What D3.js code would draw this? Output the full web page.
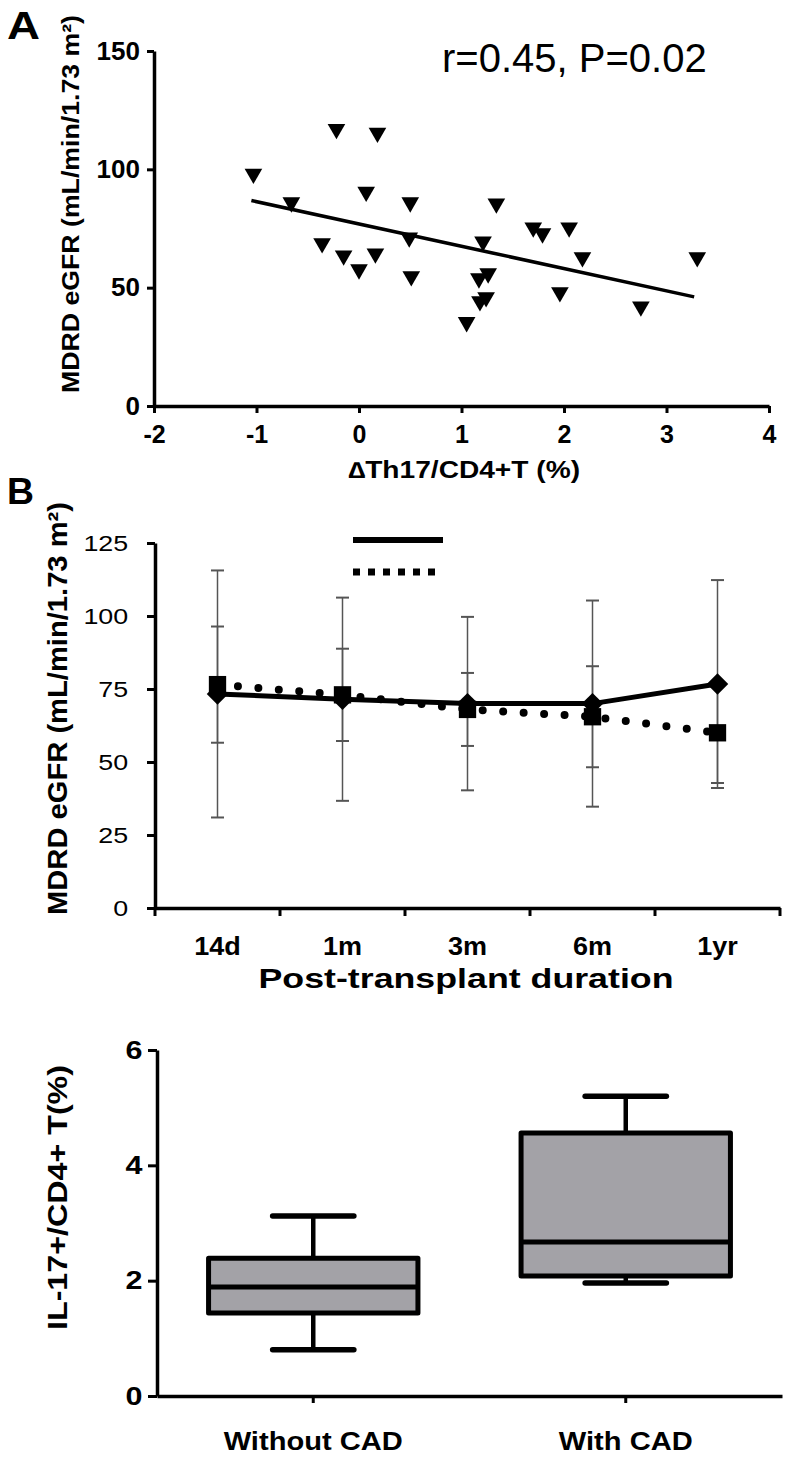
<!DOCTYPE html>
<html><head><meta charset="utf-8">
<script src="https://cdn.jsdelivr.net/npm/d3@7"></script>
<style>
body{margin:0;background:#fff;}
svg{display:block;font-family:"Liberation Sans",Arial,Helvetica,sans-serif;}
</style></head><body>
<svg id="c" width="796" height="1460"></svg>
<script>
// ---------- Panel A data ----------
const deltaTh17 = [-1.03,-0.66,-0.22,0.18,0.07,0.50,0.49,-0.36,-0.15,0.16,0.00,0.51,1.34,1.70,1.79,2.05,1.21,2.18,3.30,1.26,1.17,1.24,1.18,1.05,1.96,2.75];
const eGFR_A   = [98.1,86.0,117.0,115.4,90.5,86.0,71.2,68.7,63.6,64.4,57.7,54.8,85.5,75.4,72.9,75.4,69.5,62.8,62.8,56.0,53.9,45.9,44.2,35.4,48.0,42.0];
const fitX = [-1.05, 3.27];
const fitY = [86.8, 46.1];
const xTicksA = [-2,-1,0,1,2,3,4];
const yTicksA = [0,50,100,150];

// ---------- Panel B data ----------
const durations  = ["14d","1m","3m","6m","1yr"];
const meanSolid  = [73.3,71.5,70.0,70.0,76.7];
const sdSolid    = [42.3,34.8,29.7,35.3,35.6];
const meanDotted = [76.5,73.0,68.0,65.5,60.0];
const sdDotted   = [19.9,15.8,12.5,17.3,17.2];
const yTicksB = [0,25,50,75,100,125];

// ---------- Panel C data ----------
const groups    = ["Without CAD","With CAD"];
const whiskLow  = [0.80,1.96];
const q1        = [1.44,2.08];
const medians   = [1.89,2.67];
const q3        = [2.39,4.56];
const whiskHigh = [3.12,5.20];
const yTicksC = [0,2,4,6];

const FONT = '"Liberation Sans", Arial, Helvetica, sans-serif';
const svg = d3.select("#c");

function styleAxis(g, o){
  g.attr("font-family", null).attr("font-size", null);
  g.select(".domain").attr("stroke","#000").attr("stroke-width", o.dw || 3.5);
  g.selectAll(".tick line").attr("stroke","#000").attr("stroke-width", o.tw || 3);
  const t = g.selectAll(".tick text").attr("fill","#000")
    .style("font-family", FONT).style("font-size", o.fs + "px")
    .style("font-weight", o.fw || "bold");
  if (o.sx) t.attr("transform", `scale(${o.sx},1)`);
}
function label(txt, x, y, o){
  const t = svg.append("text").attr("x", x).attr("y", y).text(txt)
    .style("font-family", FONT).style("font-size", o.fs + "px")
    .style("font-weight", o.fw || "bold").attr("fill", "#000")
    .attr("text-anchor", o.anchor || "start");
  if (o.len) t.attr("textLength", o.len).attr("lengthAdjust", "spacingAndGlyphs");
  return t;
}
const plain = d => String(d);

// =================== PANEL A ===================
const xA = d3.scaleLinear().domain([-2,4]).range([154,769]);
const yA = d3.scaleLinear().domain([0,150]).range([406,51]);

const gAy = svg.append("g").attr("transform","translate(154,0)")
  .call(d3.axisLeft(yA).tickValues(yTicksA).tickSize(7).tickSizeOuter(0).tickPadding(7).tickFormat(plain));
styleAxis(gAy, {fs:26});
const gAx = svg.append("g").attr("transform","translate(0,406)")
  .call(d3.axisBottom(xA).tickValues(xTicksA).tickSize(7).tickSizeOuter(0).tickPadding(12).tickFormat(plain));
styleAxis(gAx, {fs:25});

// regression line
svg.append("path")
  .datum(fitX.map((x,i) => [x, fitY[i]]))
  .attr("d", d3.line().x(d => xA(d[0])).y(d => yA(d[1])))
  .attr("fill","none").attr("stroke","#000").attr("stroke-width",3.5);

// triangles (pointing down)
svg.append("g").selectAll("path").data(deltaTh17.map((x,i) => [x, eGFR_A[i]]))
  .join("path")
  .attr("d", d3.symbol(d3.symbolTriangle, 135))
  .attr("transform", d => `translate(${xA(d[0])},${yA(d[1])}) rotate(180)`)
  .attr("fill","#000");

label("A", 7, 39, {fs:38, len:33});
label("r=0.45, P=0.02", 442, 72, {fs:40, fw:"normal"});
svg.append("text").attr("transform","translate(79,393) rotate(-90)")
  .style("font-family",FONT).style("font-size","24px").style("font-weight","bold")
  .attr("textLength",378).attr("lengthAdjust","spacingAndGlyphs")
  .text("MDRD eGFR (mL/min/1.73 m²)");
label("\u2206Th17/CD4+T (%)", 464, 478, {fs:23, anchor:"middle", len:232});

// =================== PANEL B ===================
const xB = d3.scaleBand().domain(durations).range([155,780]).paddingInner(0).paddingOuter(0);
const yB = d3.scaleLinear().domain([0,125]).range([908,543]);
const cx = d => xB(d) + xB.bandwidth()/2;

const gBy = svg.append("g").attr("transform","translate(155,0)")
  .call(d3.axisLeft(yB).tickValues(yTicksB).tickSize(8).tickSizeOuter(0).tickPadding(14).tickFormat(plain));
styleAxis(gBy, {fs:22, fw:"normal", sx:1.22});

const gBx = svg.append("g").attr("transform","translate(0,908)")
  .call(d3.axisBottom(xB).tickSize(0).tickPadding(29));
styleAxis(gBx, {fs:25, sx:1.08});
// boundary ticks (GraphPad style)
const bounds = durations.map(d => xB(d)).concat([xB.range()[1]]);
gBx.selectAll("line.bt").data(bounds).join("line").attr("class","bt")
  .attr("x1", d => d).attr("x2", d => d).attr("y1", 0).attr("y2", 8)
  .attr("stroke","#000").attr("stroke-width",3);

// error bars
function errBars(means, sds){
  const g = svg.append("g").attr("stroke","#555");
  durations.forEach((d,i) => {
    const x = cx(d), hi = yB(means[i] + sds[i]), lo = yB(means[i] - sds[i]);
    g.append("line").attr("x1",x).attr("x2",x).attr("y1",hi).attr("y2",lo).attr("stroke-width",1.5);
    [hi,lo].forEach(y => g.append("line").attr("x1",x-6.5).attr("x2",x+6.5).attr("y1",y).attr("y2",y).attr("stroke-width",2));
  });
}
errBars(meanSolid, sdSolid);
errBars(meanDotted, sdDotted);

const lineB = d3.line().x((d,i) => cx(durations[i])).y(d => yB(d));
svg.append("path").datum(meanDotted).attr("d", lineB)
  .attr("fill","none").attr("stroke","#000").attr("stroke-width",8)
  .attr("stroke-dasharray","0,20.5").attr("stroke-linecap","round");
svg.append("path").datum(meanSolid).attr("d", lineB)
  .attr("fill","none").attr("stroke","#000").attr("stroke-width",5);

svg.append("g").selectAll("path").data(meanDotted).join("path")
  .attr("d", d3.symbol(d3.symbolSquare, 300))
  .attr("transform", (d,i) => `translate(${cx(durations[i])},${yB(d)})`).attr("fill","#000");
svg.append("g").selectAll("path").data(meanSolid).join("path")
  .attr("d", d3.symbol(d3.symbolSquare, 230))
  .attr("transform", (d,i) => `translate(${cx(durations[i])},${yB(d)}) rotate(45)`).attr("fill","#000");

// legend lines (labels absent in original)
svg.append("line").attr("x1",353).attr("x2",443).attr("y1",540).attr("y2",540)
  .attr("stroke","#000").attr("stroke-width",6);
svg.append("line").attr("x1",353).attr("x2",443).attr("y1",572).attr("y2",572)
  .attr("stroke","#000").attr("stroke-width",7).attr("stroke-dasharray","7,8");

label("B", 7, 504, {fs:37, len:27});
svg.append("text").attr("transform","translate(67,915) rotate(-90)")
  .style("font-family",FONT).style("font-size","28px").style("font-weight","bold")
  .attr("textLength",413).attr("lengthAdjust","spacingAndGlyphs")
  .text("MDRD eGFR (mL/min/1.73 m²)");
label("Post-transplant duration", 466, 988, {fs:28, anchor:"middle", len:415});

// =================== PANEL C ===================
const xC = d3.scaleBand().domain(groups).range([157,782]).paddingInner(0).paddingOuter(0);
const yC = d3.scaleLinear().domain([0,6]).range([1396,1050]);
const ccx = d => xC(d) + xC.bandwidth()/2;

const gCy = svg.append("g").attr("transform","translate(157,0)")
  .call(d3.axisLeft(yC).tickValues(yTicksC).tickSize(9).tickSizeOuter(0).tickPadding(3).tickFormat(plain));
styleAxis(gCy, {fs:25, sx:1.22});
const gCx = svg.append("g").attr("transform","translate(0,1396)")
  .call(d3.axisBottom(xC).tickSize(7).tickSizeOuter(0).tickPadding(29));
styleAxis(gCx, {fs:26, sx:1.12});

const boxW = xC.bandwidth()*0.67, capW = xC.bandwidth()*0.26;
const gBox = svg.append("g");
groups.forEach((g,i) => {
  const x = ccx(g);
  gBox.append("line").attr("x1",x).attr("x2",x).attr("y1",yC(whiskHigh[i])).attr("y2",yC(q3[i]))
    .attr("stroke","#000").attr("stroke-width",4.5);
  gBox.append("line").attr("x1",x).attr("x2",x).attr("y1",yC(q1[i])).attr("y2",yC(whiskLow[i]))
    .attr("stroke","#000").attr("stroke-width",4.5);
  [whiskHigh[i], whiskLow[i]].forEach(v => gBox.append("line")
    .attr("x1",x-capW/2).attr("x2",x+capW/2).attr("y1",yC(v)).attr("y2",yC(v))
    .attr("stroke","#000").attr("stroke-width",5.5).attr("stroke-linecap","round"));
  gBox.append("rect").attr("x",x-boxW/2).attr("width",boxW)
    .attr("y",yC(q3[i])).attr("height",yC(q1[i])-yC(q3[i]))
    .attr("fill","#a3a2a7").attr("stroke","#000").attr("stroke-width",5).attr("stroke-linejoin","round");
  gBox.append("line").attr("x1",x-boxW/2).attr("x2",x+boxW/2).attr("y1",yC(medians[i])).attr("y2",yC(medians[i]))
    .attr("stroke","#000").attr("stroke-width",5);
});

svg.append("text").attr("transform","translate(67,1330) rotate(-90)")
  .style("font-family",FONT).style("font-size","28px").style("font-weight","bold")
  .attr("textLength",265).attr("lengthAdjust","spacingAndGlyphs")
  .text("IL-17+/CD4+ T(%)");
</script>
</body></html>
